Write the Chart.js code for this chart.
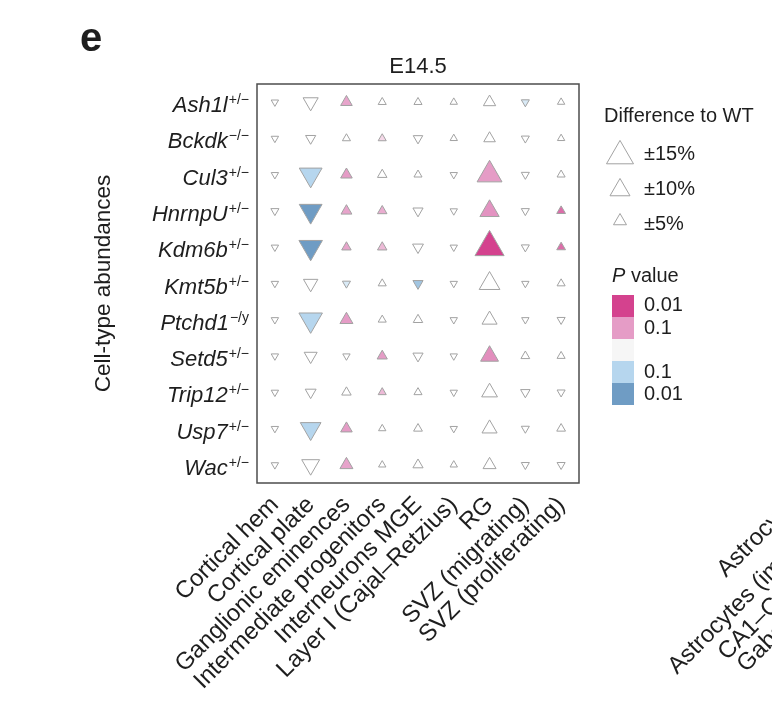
<!DOCTYPE html>
<html>
<head>
<meta charset="utf-8">
<script src="https://cdn.jsdelivr.net/npm/chart.js@4.4.1/dist/chart.umd.min.js"></script>
<style>
  html, body { margin: 0; padding: 0; background: #fff; }
</style>
</head>
<body>
<canvas id="chart" width="772" height="702"></canvas>
<script>
// rows (mutant lines) and their genotype superscripts
var genes = ['Ash1l', 'Bckdk', 'Cul3', 'HnrnpU', 'Kdm6b', 'Kmt5b', 'Ptchd1', 'Setd5', 'Trip12', 'Usp7', 'Wac'];
var genotypes = ['+/\u2212', '\u2212/\u2212', '+/\u2212', '+/\u2212', '+/\u2212', '+/\u2212', '\u2212/y', '+/\u2212', '+/\u2212', '+/\u2212', '+/\u2212'];

// columns (cell types)
var cellTypes = ['Cortical hem', 'Cortical plate', 'Ganglionic eminences', 'Intermediate progenitors',
  'Interneurons MGE', 'Layer I (Cajal\u2013Retzius)', 'RG', 'SVZ (migrating)', 'SVZ (proliferating)'];

// difference to WT (%) per row, one value per cell type
var diffAsh1l  = [-1, -6.5, 4, 1.5, 1.5, 1, 4.5, -1.5, 1];
var diffBckdk  = [-1, -3, 1.5, 1.5, -2.5, 1, 4, -1.5, 1];
var diffCul3   = [-1, -12, 4, 2.5, 1.5, -1, 13.5, -1.5, 1.5];
var diffHnrnpU = [-1.5, -12, 3.5, 2.5, -3, -1, 9.5, -1.5, 2];
var diffKdm6b  = [-1, -12.5, 2.5, 2.5, -3.5, -1, 16.5, -1.5, 2];
var diffKmt5b  = [-1, -6, -1.5, 1.5, -3, -1, 10.5, -1, 1.5];
var diffPtchd1 = [-1, -12.5, 5, 1.5, 2.5, -1, 6.5, -1, -1.5];
var diffSetd5  = [-1, -5, -1, 3, -3, -1, 8.5, 2, 1.5];
var diffTrip12 = [-1, -3.5, 2.5, 1.5, 1.5, -1, 7, -2.5, -1.5];
var diffUsp7   = [-1, -10.5, 4, 1, 2, -1, 6.5, -1.5, 2];
var diffWac    = [-1, -8.5, 5, 1, 3, 1, 5, -1.5, -1.5];

// P values per row (1 = not significant, drawn white)
var pAsh1l  = [1, 1, 0.12, 1, 1, 1, 1, 0.3, 1];
var pBckdk  = [1, 1, 1, 0.4, 1, 1, 1, 1, 1];
var pCul3   = [1, 0.1, 0.1, 1, 1, 1, 0.1, 1, 1];
var pHnrnpU = [1, 0.01, 0.12, 0.15, 1, 1, 0.08, 1, 0.03];
var pKdm6b  = [1, 0.01, 0.12, 0.2, 1, 1, 0.008, 1, 0.03];
var pKmt5b  = [1, 1, 0.3, 1, 0.05, 1, 1, 1, 1];
var pPtchd1 = [1, 0.1, 0.1, 1, 1, 1, 1, 1, 1];
var pSetd5  = [1, 1, 1, 0.1, 1, 1, 0.07, 1, 1];
var pTrip12 = [1, 1, 1, 0.2, 1, 1, 1, 1, 1];
var pUsp7   = [1, 0.1, 0.1, 1, 1, 1, 1, 1, 1];
var pWac    = [1, 1, 0.12, 1, 1, 1, 1, 1, 1];

// legend entries
var sizeLegend = [15, 10, 5];
var pLegendPos = ['0.01', '0.1'];
var pLegendNeg = ['0.1', '0.01'];

var diffRows = [diffAsh1l, diffBckdk, diffCul3, diffHnrnpU, diffKdm6b, diffKmt5b, diffPtchd1, diffSetd5, diffTrip12, diffUsp7, diffWac];
var pRows = [pAsh1l, pBckdk, pCul3, pHnrnpU, pKdm6b, pKmt5b, pPtchd1, pSetd5, pTrip12, pUsp7, pWac];

var FONT = '"Liberation Sans", Arial, Helvetica, sans-serif';
var INK = '#1e1e1e';
var EDGE = '#a2a2a2';

var WHITE = [255, 255, 255];
var PINK_L = [229, 156, 198], PINK_D = [212, 66, 142];
var BLUE_L = [182, 214, 238], BLUE_D = [111, 156, 196];

function mix(a, b, t) {
	return a.map(function(v, i) { return Math.round(v + (b[i] - v) * t); });
}

function colorFor(d, p) {
	var t = Math.min(1, Math.max(0, -Math.log10(p) / 2));
	var light = d >= 0 ? PINK_L : BLUE_L;
	var dark = d >= 0 ? PINK_D : BLUE_D;
	var c = t <= 0.5 ? mix(WHITE, light, t / 0.5) : mix(light, dark, (t - 0.5) / 0.5);
	return 'rgb(' + c.join(',') + ')';
}

function sizeFor(d) {
	return 3.45 + 0.81 * Math.abs(d);
}

var points = [];
genes.forEach(function(g, gi) {
	cellTypes.forEach(function(c, ci) {
		points.push({ x: c, y: g, d: diffRows[gi][ci], p: pRows[gi][ci] });
	});
});

// panel letter, frame, gene labels, legend, and the clipped labels of the next panel
var decor = {
	id: 'decor',
	afterDraw: function(chart) {
		var c = chart.ctx, a = chart.chartArea, ys = chart.scales.y;
		c.save();

		c.strokeStyle = '#4d4d4d';
		c.lineWidth = 1.5;
		c.strokeRect(a.left, a.top, a.right - a.left, a.bottom - a.top);

		c.fillStyle = INK;
		c.textBaseline = 'alphabetic';

		c.font = 'bold 40px ' + FONT;
		c.textAlign = 'left';
		c.fillText('e', 80, 51);

		genes.forEach(function(g, i) {
			var y = ys.getPixelForValue(i);
			var xr = a.left - 8;
			c.textAlign = 'right';
			c.font = '14px ' + FONT;
			var sw = c.measureText(genotypes[i]).width;
			c.fillText(genotypes[i], xr, y + 2);
			c.font = 'italic 22px ' + FONT;
			c.fillText(g, xr - sw - 1, y + 10);
		});

		// size legend
		c.textAlign = 'left';
		var sy = [156, 190, 221];
		var ty = [160, 195, 230];
		sizeLegend.forEach(function(v, i) {
			c.fillStyle = '#ffffff';
			c.strokeStyle = EDGE;
			c.lineWidth = 1;
			Chart.helpers.drawPoint(c, {
				pointStyle: 'triangle', rotation: 0, radius: sizeFor(v), borderWidth: 1
			}, 620, sy[i]);
			c.fillStyle = INK;
			c.font = '20px ' + FONT;
			c.fillText('\u00b1' + v + '%', 644, ty[i]);
		});
		c.fillStyle = INK;
		c.font = '20px ' + FONT;
		c.fillText('Difference to WT', 604, 122);

		// P value legend
		c.font = 'italic 20px ' + FONT;
		c.fillText('P', 612, 282);
		var pw = c.measureText('P ').width;
		c.font = '20px ' + FONT;
		c.fillText('value', 612 + pw, 282);

		var swatches = [colorFor(1, 0.01), colorFor(1, 0.1), '#f6f6f6', colorFor(-1, 0.1), colorFor(-1, 0.01)];
		swatches.forEach(function(col, i) {
			c.fillStyle = col;
			c.fillRect(612, 295 + i * 22, 22, 22);
		});
		c.fillStyle = INK;
		c.fillText(pLegendPos[0], 644, 311);
		c.fillText(pLegendPos[1], 644, 334);
		c.fillText(pLegendNeg[0], 644, 378);
		c.fillText(pLegendNeg[1], 644, 400);

		// x labels of the neighbouring panel, cut off by the page edge
		c.font = '24px ' + FONT;
		c.textAlign = 'left';
		[['Astrocytes (mature)', 726, 578], ['Astrocytes (immature)', 677, 675],
		 ['CA1\u2013CA3 neurons', 727, 661], ['Gabaergic neurons', 746, 673]].forEach(function(t) {
			c.save();
			c.translate(t[1], t[2]);
			c.rotate(-Math.PI / 4);
			c.fillText(t[0], 0, 0);
			c.restore();
		});

		c.restore();
	}
};

new Chart(document.getElementById('chart'), {
	type: 'scatter',
	data: {
		datasets: [{
			data: points,
			pointStyle: 'triangle',
			pointRadius: function(ctx) { return sizeFor(ctx.raw.d); },
			pointHoverRadius: function(ctx) { return sizeFor(ctx.raw.d); },
			pointRotation: function(ctx) { return ctx.raw.d < 0 ? 180 : 0; },
			pointBackgroundColor: function(ctx) { return colorFor(ctx.raw.d, ctx.raw.p); },
			pointBorderColor: EDGE,
			pointBorderWidth: 1
		}]
	},
	options: {
		responsive: false,
		animation: false,
		layout: { padding: { left: 86, right: 193, top: 53.6, bottom: 0 } },
		plugins: {
			legend: { display: false },
			tooltip: { enabled: false },
			title: {
				display: true,
				text: 'E14.5',
				fullSize: false,
				color: INK,
				font: { family: FONT, size: 22, weight: 'normal' },
				padding: { top: 0, bottom: 4 }
			}
		},
		scales: {
			x: {
				type: 'category',
				labels: cellTypes,
				offset: true,
				grid: { display: false, drawTicks: false },
				border: { display: false },
				ticks: {
					autoSkip: false, minRotation: 45, maxRotation: 45,
					color: INK, padding: 8,
					font: { family: FONT, size: 24 }
				},
				afterFit: function(s) { s.height = 219; }
			},
			y: {
				type: 'category',
				labels: genes,
				offset: true,
				grid: { display: false, drawTicks: false },
				border: { display: false },
				ticks: { display: false },
				title: {
					display: true,
					text: 'Cell-type abundances',
					color: INK,
					font: { family: FONT, size: 22.5 },
					padding: { top: 4, bottom: 0 }
				},
				afterFit: function(s) { s.width = 171; }
			}
		}
	},
	plugins: [decor]
});
</script>
</body>
</html>
